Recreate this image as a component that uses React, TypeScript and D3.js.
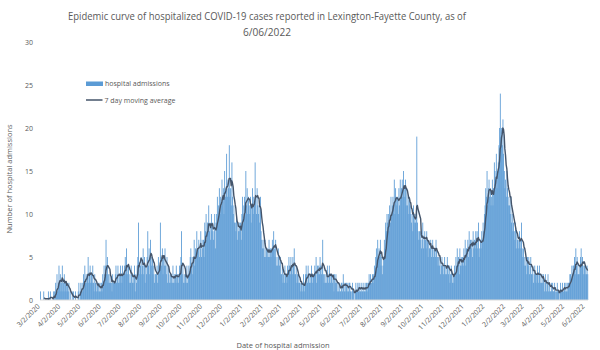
import React from "react";
import * as d3 from "d3";

// daily hospital admissions, first value is 3/2/2020
const admissions2020 = [
  1, 0, 0, 0, 0, 1, 0, 0, 0, 0, 0, 0, 1, 0, 0, 1, 0, 0, 0, 0, 1,
  1, 0, 2, 1, 3, 1, 2, 4, 2, 3, 1, 2, 4, 1, 2, 3, 1, 2, 2, 1, 2,
  1, 2, 0, 1, 0, 0, 1, 0, 1, 0, 0, 1, 0, 0, 0, 1, 2, 0, 1, 2, 1,
  2, 1, 3, 2, 4, 2, 3, 2, 3, 5, 2, 3, 4, 2, 3, 2, 4, 2, 1, 3, 2,
  2, 1, 2, 1, 2, 1, 2, 1, 2, 1, 3, 2, 4, 3, 4, 7, 3, 5, 2, 3, 2,
  3, 2, 2, 1, 3, 2, 2, 2, 3, 4, 2, 3, 4, 2, 3, 2, 4, 3, 2, 4, 3,
  3, 4, 5, 3, 6, 3, 4, 4, 2, 3, 2, 4, 3, 2, 3, 2, 4, 1, 3, 2, 4,
  5, 9, 3, 4, 4, 5, 3, 4, 6, 3, 5, 2, 4, 3, 5, 8, 4, 6, 3, 7, 5,
  4, 5, 3, 4, 2, 3, 3, 3, 4, 2, 5, 3, 4, 9, 5, 4, 6, 3, 5, 4, 6,
  4, 3, 5, 2, 4, 3, 2, 3, 2, 3, 2, 4, 2, 3, 2, 3, 4, 2, 3, 2, 3,
  4, 3, 5, 8, 3, 4, 2, 3, 2, 3, 2, 4, 2, 3, 4, 3, 5, 6, 4, 5, 3,
  5, 7, 4, 6, 5, 8, 6, 6, 7, 5, 6, 8, 5, 7, 6, 7, 5, 9, 8, 10, 7,
  9, 8, 11, 8, 9, 7, 10, 8, 9, 7, 8, 10, 6, 9, 10, 12, 9, 11, 13, 10, 12,
  11, 14, 12, 13, 10, 15, 12, 13, 17, 12, 14, 13, 18, 12, 13, 11, 16, 12, 10, 11, 9,
  9, 8, 10, 7, 9, 8, 9, 8, 9, 7, 10,
];

const admissions2021 = [
  12, 9, 11,
  12, 10, 15, 11, 13, 10, 12, 11, 10, 12, 9, 11, 13, 10,
  12, 11, 16, 12, 10, 13, 11, 10, 11, 9, 12, 8, 7, 6,
  7, 6, 5, 7, 5, 6, 5, 6, 5, 7, 5, 6, 5, 6,
  7, 6, 8, 6, 5, 7, 4, 5, 4, 6, 5, 4, 5, 3,
  3, 4, 2, 3, 2, 4, 3, 3, 2, 4, 3, 5, 4, 3,
  5, 4, 3, 5, 4, 6, 3, 3, 4, 2, 3, 2, 3, 2,
  2, 1, 2, 1, 2, 3, 1, 2, 3, 4, 3, 2, 4, 3,
  2, 3, 2, 4, 3, 2, 3, 3, 4, 3, 5, 2, 4, 3,
  4, 3, 5, 4, 3, 4, 7, 3, 2, 3, 2, 3, 2, 4,
  3, 2, 4, 3, 2, 3, 3, 2, 3, 1, 3, 2, 3, 2,
  1, 2, 1, 2, 1, 1, 2, 2, 1, 3, 2, 1, 2, 1,
  2, 1, 2, 1, 2, 2, 1, 1, 0, 2, 1, 1, 0, 1,
  2, 1, 1, 2, 1, 2, 1, 1, 2, 1, 1, 2, 1, 1,
  2, 1, 2, 1, 2, 2, 3, 2, 3, 2, 2, 3, 2, 3,
  4, 3, 5, 6, 4, 7, 5, 6, 5, 7, 4, 5, 3, 4,
  5, 7, 6, 9, 8, 10, 9, 10, 8, 11, 9, 12, 10, 11,
  12, 11, 14, 10, 13, 12, 11, 12, 10, 13, 11, 14, 12, 13,
  14, 12, 15, 13, 12, 14, 11, 13, 11, 12, 10, 12, 11, 10,
  9, 10, 8, 11, 9, 10, 9, 10, 19, 9, 8, 7, 8, 7,
  8, 6, 7, 9, 6, 7, 8, 7, 6, 8, 7, 5, 7, 6,
  6, 7, 5, 6, 7, 5, 6, 6, 5, 7, 6, 5, 4, 5,
  4, 5, 3, 4, 5, 4, 3, 4, 5, 3, 4, 3, 5, 4,
  3, 4, 2, 3, 4, 3, 2, 3, 2, 4, 3, 5, 4, 6,
  4, 5, 3, 6, 4, 5, 4, 5, 4, 6, 5, 7, 4, 6,
  6, 7, 5, 8, 6, 7, 6, 7, 5, 8, 6, 7, 6, 8,
  7, 8, 6, 9, 5, 6, 7, 6, 8, 7, 9, 8,
];

const admissions2022 = [
  10, 11,
  13, 12, 15, 11, 13, 14, 12, 13, 11, 12, 14, 11, 13, 16,
  15, 14, 17, 13, 15, 16, 18, 20, 24, 19, 20, 18, 21, 17,
  15, 13, 14, 12, 15, 13, 11, 12, 11, 10, 12, 9, 10, 8,
  9, 8, 7, 9, 6, 8, 7, 6, 7, 8, 6, 7, 9, 6,
  5, 6, 4, 5, 4, 5, 3, 5, 4, 5, 3, 4, 5, 3,
  3, 4, 2, 3, 4, 3, 2, 3, 4, 3, 2, 4, 3, 2,
  2, 3, 2, 3, 2, 1, 3, 2, 1, 2, 3, 1, 2, 1,
  1, 2, 1, 2, 1, 1, 2, 1, 0, 1, 2, 1, 1, 0,
  1, 2, 1, 1, 2, 1, 1, 2, 1, 2, 1, 2, 1, 2,
  2, 3, 3, 2, 4, 3, 4, 4, 5, 3, 6, 4, 5, 3,
  3, 4, 3, 5, 6, 4, 5, 4, 3, 4, 3, 4, 3, 4,
  3,
];

const yTicks = [0, 5, 10, 15, 20, 25, 30];
const titleLines = [
  "Epidemic curve of hospitalized COVID-19 cases reported in Lexington-Fayette County, as of",
  "6/06/2022",
];
const titleWidths = [398, 48];

const W = 600;
const H = 350;
const margin = { top: 42, right: 12, bottom: 50, left: 40 };
const barColor = "#5B9BD5";
const lineColor = "#44546A";
const textColor = "#595959";
const font = "Open Sans, sans-serif";

export default function App() {
  const values = [...admissions2020, ...admissions2021, ...admissions2022];
  const start = new Date(2020, 2, 2);
  const data = values.map((v, i) => ({ date: d3.timeDay.offset(start, i), v }));
  const end = data[data.length - 1].date;

  const x = d3
    .scaleTime()
    .domain([d3.timeHour.offset(start, -12), d3.timeHour.offset(end, 12)])
    .range([margin.left, W - margin.right]);
  const y = d3
    .scaleLinear()
    .domain([0, 30])
    .range([H - margin.bottom, margin.top]);

  const bw = x(d3.timeDay.offset(start, 1)) - x(start);

  // 7 day trailing moving average
  const ma = data.slice(6).map((d, i) => ({
    date: d.date,
    v: d3.mean(values.slice(i, i + 7)),
  }));
  const line = d3
    .line()
    .x((d) => x(d.date))
    .y((d) => y(d.v));

  const ticks = d3.timeMonth
    .range(new Date(2020, 2, 1), new Date(2022, 5, 2))
    .map((d) => new Date(d.getFullYear(), d.getMonth(), 2));
  const fmt = d3.timeFormat("%-m/%-d/%Y");

  return (
    <svg width={W} height={H} style={{ position: "absolute", left: 0, top: 0 }} fontFamily={font}>
      <rect width={W} height={H} fill="#fff" />
      {titleLines.map((t, i) => (
        <text
          key={i}
          x={267}
          y={20 + i * 15.5}
          textAnchor="middle"
          fontSize={11}
          fill={textColor}
          textLength={titleWidths[i]}
          lengthAdjust="spacingAndGlyphs"
        >
          {t}
        </text>
      ))}

      {yTicks.map((t) => (
        <text key={t} x={33} y={y(t) + 2.5} textAnchor="end" fontSize={7} fill={textColor}>
          {t}
        </text>
      ))}

      <g>
        {data.map((d, i) => (
          <rect
            key={i}
            x={x(d.date) - bw / 2}
            y={y(d.v)}
            width={bw * 1.3}
            height={y(0) - y(d.v)}
            fill={barColor}
          />
        ))}
      </g>

      <line x1={margin.left} x2={W - margin.right} y1={y(0)} y2={y(0)} stroke="#D9D9D9" strokeWidth={1} />

      <path d={line(ma)} fill="none" stroke={lineColor} strokeWidth={1.4} strokeLinejoin="round" />

      {ticks.map((t, i) => (
        <text
          key={i}
          transform={`translate(${x(t)},${y(0) + 7}) rotate(-45)`}
          textAnchor="end"
          fontSize={7}
          fill={textColor}
        >
          {fmt(t)}
        </text>
      ))}

      <text x={283} y={348} textAnchor="middle" fontSize={7.5} fill={textColor}>
        Date of hospital admission
      </text>
      <text
        transform={`translate(12,179) rotate(-90)`}
        textAnchor="middle"
        fontSize={7.5}
        fill={textColor}
      >
        Number of hospital admissions
      </text>

      <rect x={86} y={81.5} width={17} height={4.5} fill={barColor} />
      <text x={105} y={86} fontSize={7} fill={textColor}>
        hospital admissions
      </text>
      <line x1={86} x2={102.5} y1={100} y2={100} stroke={lineColor} strokeWidth={1.5} />
      <text x={104.5} y={102.5} fontSize={7} fill={textColor}>
        7 day moving average
      </text>
    </svg>
  );
}
